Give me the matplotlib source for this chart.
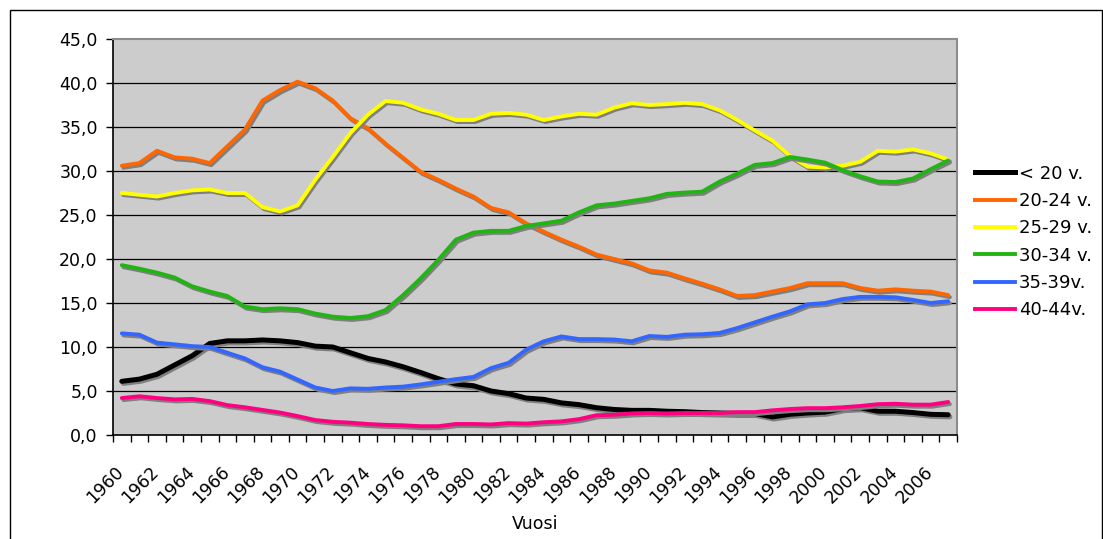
import numpy as np
import matplotlib
matplotlib.use("Agg")
import matplotlib.pyplot as plt
import matplotlib.patheffects as pe
import matplotlib.transforms as mtransforms
from matplotlib.lines import Line2D
from matplotlib.patches import Rectangle

years = list(range(1960, 2008))

under20 = [6.1, 6.35, 6.9, 7.95, 9.0, 10.4, 10.7, 10.7, 10.8, 10.7, 10.5, 10.1,
           10.0, 9.35, 8.7, 8.3, 7.75, 7.1, 6.4, 5.8, 5.6, 5.0, 4.7, 4.2,
           4.05, 3.65, 3.45, 3.1, 2.9, 2.8, 2.8, 2.7, 2.65, 2.55, 2.5, 2.45,
           2.45, 2.05, 2.35, 2.5, 2.6, 3.0, 3.1, 2.7, 2.7, 2.55, 2.35, 2.3]
age20_24 = [30.6, 30.9, 32.3, 31.55, 31.4, 30.9, 32.8, 34.7, 38.0, 39.2, 40.15, 39.4,
            38.0, 36.0, 34.85, 33.1, 31.5, 29.9, 29.0, 28.0, 27.1, 25.8, 25.3, 24.05,
            23.1, 22.2, 21.4, 20.5, 20.0, 19.5, 18.7, 18.45, 17.8, 17.2, 16.55, 15.8,
            15.9, 16.3, 16.7, 17.25, 17.25, 17.25, 16.7, 16.4, 16.55, 16.4, 16.3, 15.9]
age25_29 = [27.5, 27.3, 27.1, 27.5, 27.8, 27.9, 27.5, 27.5, 25.9, 25.4, 26.1, 29.0,
            31.6, 34.3, 36.4, 37.95, 37.75, 37.0, 36.5, 35.8, 35.8, 36.5, 36.6, 36.4,
            35.8, 36.2, 36.5, 36.4, 37.2, 37.7, 37.5, 37.6, 37.75, 37.6, 36.9, 35.8,
            34.6, 33.45, 31.7, 30.5, 30.4, 30.6, 31.05, 32.3, 32.2, 32.45, 32.0, 31.3]
age30_34 = [19.3, 18.9, 18.45, 17.9, 16.9, 16.3, 15.8, 14.6, 14.3, 14.4, 14.3, 13.8,
            13.45, 13.3, 13.5, 14.2, 15.9, 17.8, 19.9, 22.2, 23.0, 23.2, 23.2, 23.75,
            24.05, 24.35, 25.3, 26.1, 26.3, 26.6, 26.9, 27.4, 27.55, 27.65, 28.8, 29.7,
            30.7, 30.9, 31.6, 31.3, 30.95, 30.1, 29.4, 28.8, 28.75, 29.15, 30.2, 31.2]
age35_39 = [11.55, 11.4, 10.5, 10.3, 10.1, 10.0, 9.35, 8.7, 7.7, 7.2, 6.3, 5.4,
            5.0, 5.3, 5.25, 5.4, 5.5, 5.75, 6.05, 6.35, 6.6, 7.6, 8.2, 9.7,
            10.65, 11.2, 10.9, 10.9, 10.85, 10.65, 11.25, 11.15, 11.4, 11.45, 11.6, 12.15,
            12.8, 13.45, 14.05, 14.85, 15.0, 15.45, 15.7, 15.7, 15.65, 15.35, 15.0, 15.2]
age40_44 = [4.2, 4.4, 4.2, 4.05, 4.1, 3.85, 3.4, 3.15, 2.85, 2.55, 2.15, 1.7,
            1.5, 1.4, 1.25, 1.15, 1.1, 1.0, 1.0, 1.25, 1.25, 1.2, 1.35, 1.3,
            1.45, 1.55, 1.8, 2.25, 2.3, 2.45, 2.5, 2.45, 2.5, 2.5, 2.5, 2.6,
            2.6, 2.8, 2.95, 3.05, 3.05, 3.15, 3.3, 3.5, 3.55, 3.45, 3.45, 3.75]

labels = ["< 20 v.", "20-24 v.", "25-29 v.", "30-34 v.", "35-39v.", "40-44v."]
colors = ["#000000", "#FF6600", "#FFFF00", "#22B414", "#3366FF", "#FF0080"]
widths = [3.6, 2.8, 2.8, 2.8, 2.8, 2.8]
series = [under20, age20_24, age25_29, age30_34, age35_39, age40_44]

W, H = 1103, 539
fig = plt.figure(figsize=(W / 100, H / 100), dpi=100)
fig.patches.append(Rectangle((10 / W, -0.1), (1102 - 10) / W, 1.1 - 10.5 / H,
                             transform=fig.transFigure, fill=False,
                             edgecolor="black", linewidth=1.0))

ax = fig.add_axes([113 / W, 1 - 435 / H, 844 / W, 396 / H])
ax.set_facecolor("#CCCCCC")

x = np.arange(len(years))
shadow = [pe.SimpleLineShadow(offset=(1.2, -1.5), shadow_color="#7F7F7F", alpha=1.0),
          pe.Normal()]
for vals, col, lw in zip(series, colors, widths):
    ax.plot(x, vals, color=col, linewidth=lw, solid_joinstyle="round",
            solid_capstyle="round", path_effects=shadow, zorder=3)

ax.set_xlim(-0.5, len(years) - 0.5)
ax.set_ylim(0, 45)
ax.set_yticks(np.arange(0, 46, 5))
ax.set_yticklabels([f"{v:.1f}".replace(".", ",") for v in np.arange(0, 46, 5)])
for v in range(5, 45, 5):
    ax.axhline(v, color="black", linewidth=0.9, zorder=1)

ax.set_xticks(np.arange(-0.5, len(years)), labels=[""] * (len(years) + 1))
ax.set_xticks(x[::2], minor=True)
ax.set_xticklabels([str(y) for y in years[::2]], minor=True)
ax.tick_params(axis="x", which="major", direction="out", length=5, width=1)
ax.tick_params(axis="x", which="minor", length=0, pad=20, labelsize=12.5)
ax.tick_params(axis="y", direction="out", length=5, width=1, pad=6, labelsize=12.5)
offset = mtransforms.ScaledTranslation(-7 / 100, 0, fig.dpi_scale_trans)
for lab in ax.get_xticklabels(minor=True):
    lab.set_rotation(45)
    lab.set_ha("right")
    lab.set_va("top")
    lab.set_rotation_mode("anchor")
    lab.set_transform(lab.get_transform() + offset)

for side in ["left", "bottom"]:
    ax.spines[side].set_color("black")
    ax.spines[side].set_linewidth(1.2)
for side in ["top", "right"]:
    ax.spines[side].set_color("#8C8C8C")
    ax.spines[side].set_linewidth(1.5)

ax.set_xlabel("Vuosi", fontsize=12.5, labelpad=6)

handles = [Line2D([], [], color=c, linewidth=lw) for c, lw in zip(colors, widths)]
fig.legend(handles, labels, loc="center left", bbox_to_anchor=(975 / W, 1 - 242 / H),
           frameon=False, fontsize=13, handlelength=2.2, handletextpad=0.22,
           labelspacing=0.52, borderpad=0, borderaxespad=0)

fig.savefig("out.png", dpi=100)
